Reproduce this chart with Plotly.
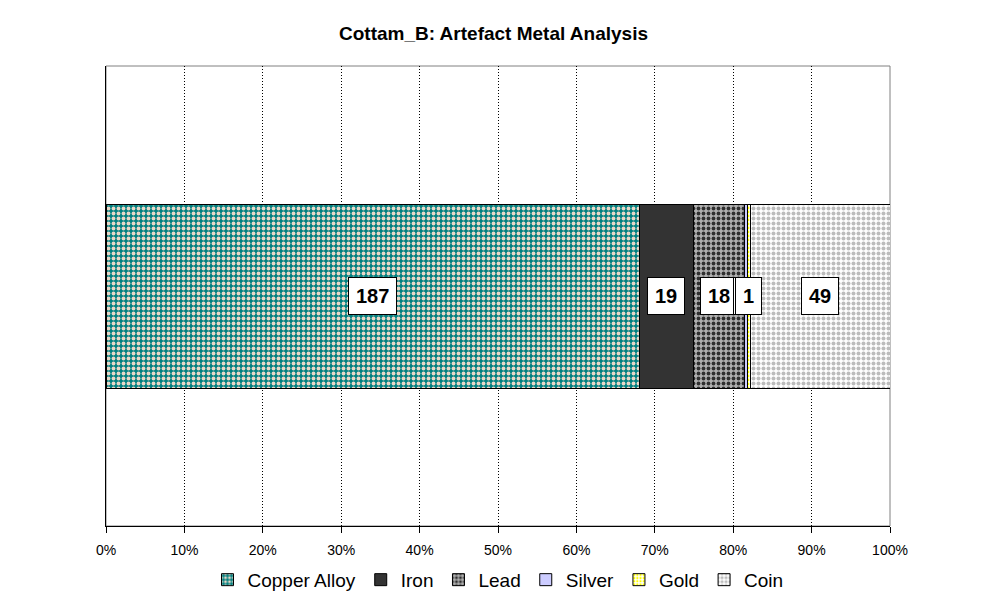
import plotly.graph_objects as go

categories = ["Cottam_B"]
series_names = ["Copper Alloy", "Iron", "Lead", "Silver", "Gold", "Coin"]
series_values = [187, 19, 18, 1, 1, 49]

colors = {
    "Copper Alloy": dict(bg="#008080", fg="#e8d8c8", shape=".", size=5, sol=0.45),
    "Iron": dict(bg="#333333", fg="#333333", shape="", size=4, sol=0.3),
    "Lead": dict(bg="#b0b0b0", fg="#303030", shape=".", size=5, sol=0.45),
    "Silver": dict(bg="#ccccff", fg="#ccccff", shape="", size=4, sol=0.3),
    "Gold": dict(bg="#ffffff", fg="#ffff00", shape=".", size=4, sol=0.4),
    "Coin": dict(bg="#ffffff", fg="#bcbcbc", shape=".", size=5, sol=0.5),
}

total = sum(series_values)
pcts = [v / total * 100 for v in series_values]

fig = go.Figure()
for name, v in zip(series_names, series_values):
    c = colors[name]
    fig.add_trace(go.Bar(
        x=[v], y=categories, name=name, orientation="h",
        marker=dict(
            color=c["bg"],
            line=dict(color="#000000", width=1),
            pattern=dict(shape=c["shape"], fgcolor=c["fg"], bgcolor=c["bg"],
                         size=c["size"], solidity=c["sol"], fillmode="replace"),
        ),
        width=0.4,
        hoverinfo="name+x",
    ))

# data labels
cum = 0
for name, v, p in zip(series_names, series_values, pcts):
    mid = cum + p / 2
    cum += p
    fig.add_annotation(
        x=mid, y=categories[0], xref="x", yref="y", text="<b>%d</b>" % v,
        showarrow=False, bgcolor="#ffffff", bordercolor="#000000", borderwidth=1,
        borderpad=7, font=dict(family="Liberation Sans, Arial", size=20, color="#000000"),
    )

fig.update_layout(
    barmode="stack",
    barnorm="percent",
    width=987, height=606,
    margin=dict(l=106, r=97, t=66, b=80, autoexpand=False),
    paper_bgcolor="#ffffff",
    plot_bgcolor="#ffffff",
    title=dict(text="<b>Cottam_B: Artefact Metal Analysis</b>", x=0.5, xanchor="center",
               y=1 - 33 / 606, yanchor="middle",
               font=dict(family="Liberation Sans, Arial", size=19, color="#000000")),
    font=dict(family="Liberation Sans, Arial", size=12, color="#000000"),
    showlegend=True,
    legend=dict(orientation="h", x=0.5, xanchor="center", y=-0.117, yanchor="middle",
                font=dict(size=19), traceorder="normal", itemwidth=30,
                bgcolor="rgba(0,0,0,0)"),
    shapes=[dict(type="rect", xref="paper", yref="paper", x0=0, x1=1, y0=0, y1=1,
                 line=dict(color="#808080", width=1), layer="below")],
)
fig.update_xaxes(range=[0, 100], dtick=10, ticksuffix="%", showgrid=True,
                 gridcolor="#000000", griddash="1px,2px", gridwidth=1,
                 showline=True, linecolor="#000000", linewidth=1,
                 ticks="outside", ticklen=6, tickcolor="#000000", zeroline=False,
                 ticklabelstandoff=5, automargin=False,
                 tickfont=dict(size=14))
fig.update_yaxes(showticklabels=False, showline=True, linecolor="#000000", linewidth=1,
                 showgrid=False, zeroline=False, ticks="", range=[-0.5, 0.5],
                 automargin=False)

fig.write_html("out.html")
